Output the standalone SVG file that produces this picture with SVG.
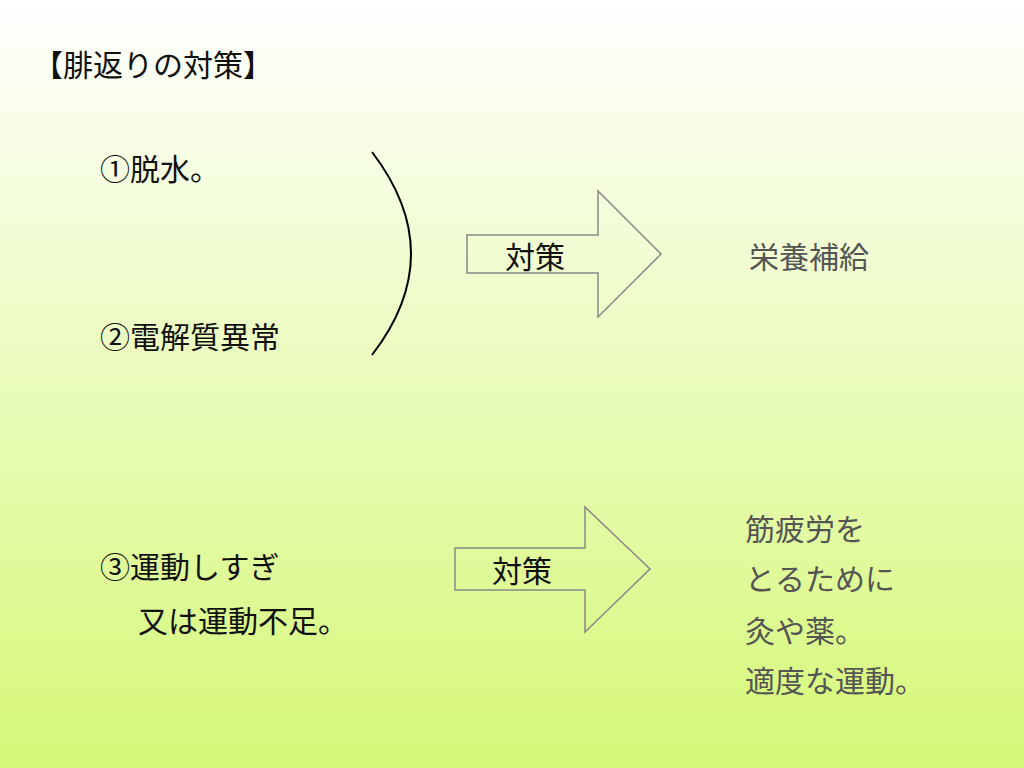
<svg xmlns="http://www.w3.org/2000/svg" width="1024" height="768" viewBox="0 0 1024 768">
<defs>
<linearGradient id="bg" x1="0" y1="0" x2="0" y2="1">
<stop offset="0" stop-color="#ffffff"/>
<stop offset="1" stop-color="#d5f877"/>
</linearGradient>
<style>
text{font-family:"Noto Sans CJK JP","Noto Sans CJK SC",sans-serif;font-size:30px;fill:#111}
.g{fill:#555}
.arrow{fill:#fff;fill-opacity:0;stroke:#888;stroke-width:1.5}
</style>
</defs>
<rect width="1024" height="768" fill="url(#bg)"/>
<text x="33" y="76">【腓返りの対策】</text>
<g id="n1"><text x="100" y="180">①脱水。</text></g>
<g id="n2"><text x="100" y="348">②電解質異常</text></g>
<g id="n3"><text x="100" y="578">③運動しすぎ</text><text x="138" y="632">又は運動不足。</text></g>
<g id="brace"><path d="M372,152 Q450,254 372,355" fill="none" stroke="#000" stroke-width="2"/></g>
<g id="connectors">
<g id="a1"><polygon class="arrow" points="467,235 598,235 598,191 661,254 598,317 598,273 467,273"/><text x="505" y="268">対策</text></g>
<g id="a2"><polygon class="arrow" points="455,548 585,548 585,507 650,569 585,632 585,590 455,590"/><text x="492" y="582">対策</text></g>
</g>
<g id="r1"><text class="g" x="749" y="268">栄養補給</text></g>
<g id="r2"><text class="g" x="745" y="540">筋疲労を</text><text class="g" x="745" y="590">とるために</text><text class="g" x="745" y="642">灸や薬。</text><text class="g" x="745" y="692">適度な運動。</text></g>
</svg>
